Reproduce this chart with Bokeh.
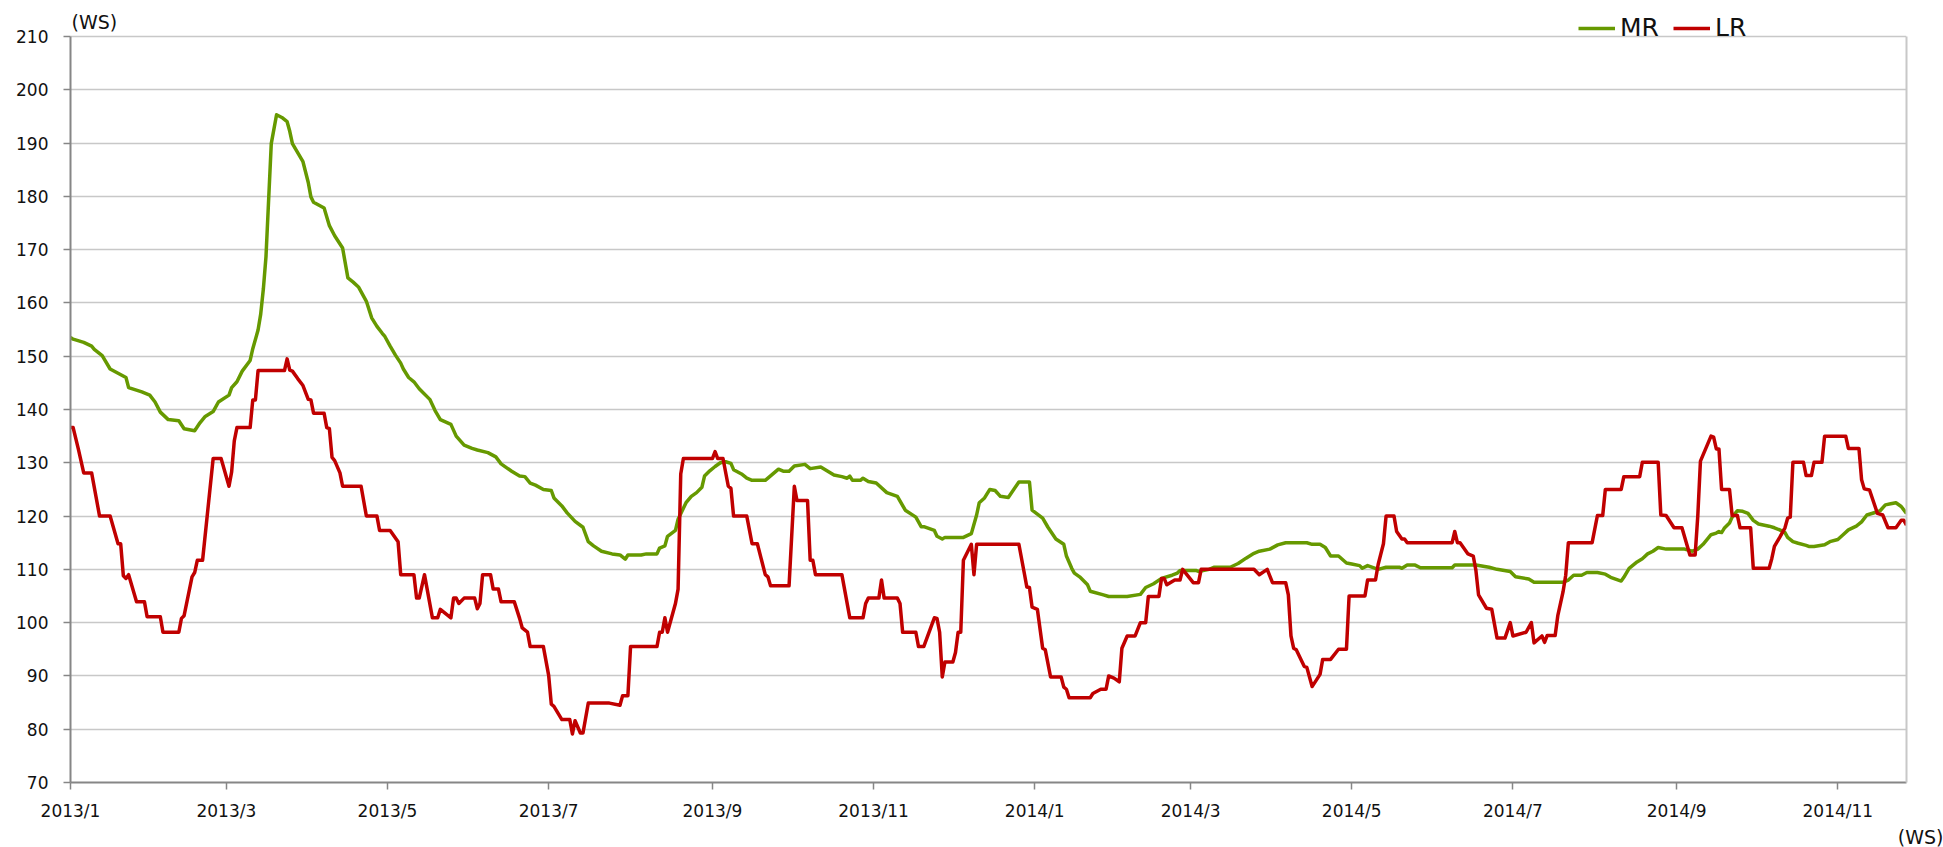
import pandas as pd
from bokeh.plotting import figure
from bokeh.models import (Range1d, FixedTicker, Label, Legend, LegendItem, LinearAxis, Title)
from bokeh.embed import file_html
from bokeh.resources import INLINE

# ---------------- data ----------------
mr_dates = [
    "2013-01-01", "2013-01-02", "2013-01-06", "2013-01-09", "2013-01-10", "2013-01-13", "2013-01-16",
    "2013-01-19", "2013-01-22", "2013-01-23", "2013-01-28", "2013-01-31", "2013-02-02", "2013-02-04",
    "2013-02-07", "2013-02-11", "2013-02-13", "2013-02-17", "2013-02-19", "2013-02-21", "2013-02-24",
    "2013-02-26", "2013-03-02", "2013-03-03", "2013-03-05", "2013-03-07", "2013-03-10", "2013-03-11",
    "2013-03-13", "2013-03-14", "2013-03-15", "2013-03-16", "2013-03-18", "2013-03-20", "2013-03-22",
    "2013-03-24", "2013-03-25", "2013-03-26", "2013-03-30", "2013-04-01", "2013-04-02", "2013-04-03",
    "2013-04-07", "2013-04-09", "2013-04-11", "2013-04-14", "2013-04-16", "2013-04-18", "2013-04-20",
    "2013-04-23", "2013-04-25", "2013-04-27", "2013-04-29", "2013-04-30", "2013-05-02", "2013-05-04",
    "2013-05-06", "2013-05-07", "2013-05-09", "2013-05-11", "2013-05-13", "2013-05-17", "2013-05-19",
    "2013-05-21", "2013-05-25", "2013-05-27", "2013-05-30", "2013-06-02", "2013-06-04", "2013-06-08",
    "2013-06-11", "2013-06-13", "2013-06-15", "2013-06-17", "2013-06-20", "2013-06-22", "2013-06-24",
    "2013-06-26", "2013-06-29", "2013-07-02", "2013-07-03", "2013-07-06", "2013-07-08", "2013-07-11",
    "2013-07-14", "2013-07-16", "2013-07-18", "2013-07-21", "2013-07-25", "2013-07-28", "2013-07-30",
    "2013-07-31", "2013-08-05", "2013-08-07", "2013-08-11", "2013-08-12", "2013-08-14", "2013-08-15",
    "2013-08-18", "2013-08-19", "2013-08-22", "2013-08-24", "2013-08-26", "2013-08-28", "2013-08-29",
    "2013-08-31", "2013-09-02", "2013-09-04", "2013-09-06", "2013-09-08", "2013-09-09", "2013-09-12",
    "2013-09-14", "2013-09-16", "2013-09-21", "2013-09-26", "2013-09-28", "2013-09-30", "2013-10-02",
    "2013-10-06", "2013-10-08", "2013-10-12", "2013-10-17", "2013-10-20", "2013-10-22", "2013-10-23",
    "2013-10-24", "2013-10-27", "2013-10-28", "2013-10-30", "2013-11-02", "2013-11-06", "2013-11-10",
    "2013-11-13", "2013-11-17", "2013-11-19", "2013-11-20", "2013-11-24", "2013-11-25", "2013-11-27",
    "2013-11-28", "2013-12-05", "2013-12-08", "2013-12-10", "2013-12-11", "2013-12-13", "2013-12-15",
    "2013-12-17", "2013-12-19", "2013-12-22", "2013-12-26", "2013-12-30", "2013-12-31", "2014-01-04",
    "2014-01-06", "2014-01-09", "2014-01-12", "2014-01-13", "2014-01-15", "2014-01-16", "2014-01-18",
    "2014-01-21", "2014-01-22", "2014-01-27", "2014-01-29", "2014-02-05", "2014-02-10", "2014-02-12",
    "2014-02-15", "2014-02-18", "2014-02-22", "2014-02-24", "2014-02-25", "2014-03-03", "2014-03-04",
    "2014-03-08", "2014-03-10", "2014-03-16", "2014-03-19", "2014-03-22", "2014-03-25", "2014-03-27",
    "2014-03-31", "2014-04-03", "2014-04-06", "2014-04-14", "2014-04-16", "2014-04-19", "2014-04-21",
    "2014-04-23", "2014-04-26", "2014-04-29", "2014-05-01", "2014-05-04", "2014-05-05", "2014-05-07",
    "2014-05-11", "2014-05-14", "2014-05-19", "2014-05-20", "2014-05-22", "2014-05-25", "2014-05-27",
    "2014-06-08", "2014-06-09", "2014-06-17", "2014-06-22", "2014-06-25", "2014-06-30", "2014-07-02",
    "2014-07-07", "2014-07-09", "2014-07-20", "2014-07-22", "2014-07-24", "2014-07-27", "2014-07-29",
    "2014-08-02", "2014-08-05", "2014-08-07", "2014-08-11", "2014-08-12", "2014-08-14", "2014-08-17",
    "2014-08-19", "2014-08-21", "2014-08-23", "2014-08-25", "2014-08-28", "2014-09-04", "2014-09-07",
    "2014-09-09", "2014-09-11", "2014-09-13", "2014-09-14", "2014-09-16", "2014-09-17", "2014-09-18",
    "2014-09-19", "2014-09-21", "2014-09-22", "2014-09-24", "2014-09-26", "2014-09-28", "2014-09-30",
    "2014-10-02", "2014-10-06", "2014-10-08", "2014-10-10", "2014-10-12", "2014-10-13", "2014-10-15",
    "2014-10-17", "2014-10-20", "2014-10-21", "2014-10-23", "2014-10-27", "2014-10-29", "2014-11-01",
    "2014-11-03", "2014-11-05", "2014-11-08", "2014-11-10", "2014-11-12", "2014-11-16", "2014-11-17",
    "2014-11-19", "2014-11-21", "2014-11-23", "2014-11-25", "2014-11-27",
]
mr_values = [
    153.5, 153.2, 152.6, 151.9, 151.3, 150.1, 147.6,
    146.8, 146.0, 144.1, 143.3, 142.7, 141.4, 139.5,
    138.1, 137.9, 136.4, 136.0, 137.5, 138.7, 139.6,
    141.4, 142.7, 144.1, 145.2, 147.2, 149.2, 151.4,
    154.9, 157.9, 162.6, 168.7, 189.9, 195.3, 194.8,
    194.0, 192.2, 189.9, 186.5, 182.6, 179.9, 178.9,
    177.8, 174.5, 172.6, 170.3, 164.7, 163.9, 163.0,
    160.3, 157.2, 155.6, 154.3, 153.7, 151.9, 150.2,
    148.7, 147.6, 146.0, 145.2, 143.9, 141.9, 139.8,
    138.1, 137.2, 135.0, 133.3, 132.7, 132.4, 131.9,
    131.1, 129.8, 129.1, 128.4, 127.5, 127.4, 126.2,
    125.8, 125.0, 124.8, 123.4, 121.9, 120.6, 119.0,
    117.9, 115.2, 114.4, 113.4, 112.9, 112.7, 111.9,
    112.7, 112.7, 112.9, 112.9, 114.0, 114.4, 116.2,
    117.3, 119.4, 122.5, 123.7, 124.4, 125.4, 127.5,
    128.5, 129.3, 130.0, 130.2, 129.9, 128.7, 127.9,
    127.1, 126.7, 126.7, 128.8, 128.4, 128.4, 129.4,
    129.7, 128.9, 129.2, 127.7, 127.4, 127.1, 127.5,
    126.7, 126.7, 127.1, 126.5, 126.2, 124.4, 123.7,
    121.1, 119.8, 118.0, 118.0, 117.3, 116.2, 115.7,
    116.0, 116.0, 116.7, 120.2, 122.5, 123.4, 125.0,
    124.8, 123.7, 123.5, 126.4, 126.4, 121.1, 119.6,
    117.9, 115.7, 114.7, 112.5, 110.2, 109.3, 108.6,
    107.1, 105.9, 105.2, 104.9, 104.9, 105.3, 106.6,
    107.3, 108.3, 108.9, 109.3, 109.8, 109.8, 109.6,
    110.0, 110.4, 110.4, 111.1, 112.1, 113.0, 113.4,
    113.8, 114.6, 115.0, 115.0, 114.7, 114.7, 114.1,
    112.5, 112.5, 111.2, 111.0, 110.7, 110.2, 110.7,
    110.0, 110.4, 110.4, 110.2, 110.8, 110.8, 110.3,
    110.3, 110.8, 110.8, 110.4, 110.0, 109.6, 108.6,
    108.2, 107.6, 107.6, 108.0, 108.9, 108.9, 109.4,
    109.4, 109.1, 108.5, 107.8, 108.5, 110.2, 111.4,
    112.0, 112.9, 113.4, 114.1, 113.8, 113.8, 113.4,
    113.8, 114.7, 115.9, 116.5, 116.8, 117.1, 116.9,
    117.7, 118.7, 119.8, 121.0, 120.9, 120.5, 119.2,
    118.5, 118.1, 117.8, 117.4, 116.9, 116.0, 115.2,
    114.9, 114.5, 114.3, 114.3, 114.6, 115.2, 115.6,
    116.5, 117.4, 118.1, 118.9, 120.2, 120.8, 121.0,
    122.1, 122.3, 122.5, 121.8, 120.5,
]

lr_dates = [
    "2013-01-01", "2013-01-02", "2013-01-04", "2013-01-06", "2013-01-09", "2013-01-12", "2013-01-16",
    "2013-01-19", "2013-01-20", "2013-01-21", "2013-01-22", "2013-01-23", "2013-01-26", "2013-01-29",
    "2013-01-30", "2013-02-04", "2013-02-05", "2013-02-11", "2013-02-12", "2013-02-13", "2013-02-16",
    "2013-02-17", "2013-02-18", "2013-02-20", "2013-02-24", "2013-02-27", "2013-03-02", "2013-03-03",
    "2013-03-04", "2013-03-05", "2013-03-10", "2013-03-11", "2013-03-12", "2013-03-13", "2013-03-23",
    "2013-03-24", "2013-03-25", "2013-03-26", "2013-03-28", "2013-03-30", "2013-04-01", "2013-04-02",
    "2013-04-03", "2013-04-07", "2013-04-08", "2013-04-09", "2013-04-10", "2013-04-11", "2013-04-13",
    "2013-04-14", "2013-04-21", "2013-04-23", "2013-04-27", "2013-04-28", "2013-05-02", "2013-05-05",
    "2013-05-06", "2013-05-11", "2013-05-12", "2013-05-13", "2013-05-15", "2013-05-18", "2013-05-20",
    "2013-05-21", "2013-05-25", "2013-05-26", "2013-05-27", "2013-05-28", "2013-05-30", "2013-06-03",
    "2013-06-04", "2013-06-05", "2013-06-06", "2013-06-09", "2013-06-10", "2013-06-12", "2013-06-13",
    "2013-06-18", "2013-06-20", "2013-06-21", "2013-06-23", "2013-06-24", "2013-06-29", "2013-07-01",
    "2013-07-02", "2013-07-03", "2013-07-06", "2013-07-09", "2013-07-10", "2013-07-11", "2013-07-13",
    "2013-07-14", "2013-07-16", "2013-07-24", "2013-07-28", "2013-07-29", "2013-07-31", "2013-08-01",
    "2013-08-11", "2013-08-12", "2013-08-13", "2013-08-14", "2013-08-15", "2013-08-18", "2013-08-19",
    "2013-08-20", "2013-08-21", "2013-09-01", "2013-09-02", "2013-09-03", "2013-09-05", "2013-09-07",
    "2013-09-08", "2013-09-09", "2013-09-14", "2013-09-16", "2013-09-18", "2013-09-21", "2013-09-22",
    "2013-09-23", "2013-09-30", "2013-10-02", "2013-10-03", "2013-10-07", "2013-10-08", "2013-10-09",
    "2013-10-10", "2013-10-20", "2013-10-23", "2013-10-28", "2013-10-29", "2013-10-30", "2013-11-03",
    "2013-11-04", "2013-11-05", "2013-11-10", "2013-11-11", "2013-11-12", "2013-11-17", "2013-11-18",
    "2013-11-20", "2013-11-24", "2013-11-25", "2013-11-26", "2013-11-27", "2013-11-28", "2013-12-01",
    "2013-12-02", "2013-12-03", "2013-12-04", "2013-12-05", "2013-12-08", "2013-12-09", "2013-12-10",
    "2013-12-26", "2013-12-28", "2013-12-29", "2013-12-30", "2013-12-31", "2014-01-02", "2014-01-04",
    "2014-01-05", "2014-01-07", "2014-01-11", "2014-01-12", "2014-01-13", "2014-01-14", "2014-01-22",
    "2014-01-23", "2014-01-26", "2014-01-28", "2014-01-29", "2014-01-31", "2014-02-02", "2014-02-03",
    "2014-02-05", "2014-02-08", "2014-02-10", "2014-02-12", "2014-02-13", "2014-02-17", "2014-02-18",
    "2014-02-19", "2014-02-20", "2014-02-23", "2014-02-25", "2014-02-26", "2014-03-02", "2014-03-04",
    "2014-03-05", "2014-03-25", "2014-03-27", "2014-03-30", "2014-04-01", "2014-04-06", "2014-04-07",
    "2014-04-08", "2014-04-09", "2014-04-10", "2014-04-13", "2014-04-14", "2014-04-16", "2014-04-19",
    "2014-04-20", "2014-04-23", "2014-04-26", "2014-04-29", "2014-04-30", "2014-05-06", "2014-05-07",
    "2014-05-10", "2014-05-11", "2014-05-13", "2014-05-14", "2014-05-17", "2014-05-18", "2014-05-20",
    "2014-05-21", "2014-05-22", "2014-06-08", "2014-06-09", "2014-06-10", "2014-06-11", "2014-06-14",
    "2014-06-16", "2014-06-17", "2014-06-18", "2014-06-21", "2014-06-23", "2014-06-25", "2014-06-28",
    "2014-06-30", "2014-07-01", "2014-07-06", "2014-07-08", "2014-07-09", "2014-07-12", "2014-07-13",
    "2014-07-14", "2014-07-17", "2014-07-18", "2014-07-20", "2014-07-21", "2014-07-22", "2014-07-31",
    "2014-08-02", "2014-08-04", "2014-08-05", "2014-08-11", "2014-08-12", "2014-08-18", "2014-08-19",
    "2014-08-25", "2014-08-26", "2014-08-28", "2014-08-31", "2014-09-03", "2014-09-06", "2014-09-08",
    "2014-09-09", "2014-09-10", "2014-09-14", "2014-09-15", "2014-09-16", "2014-09-17", "2014-09-18",
    "2014-09-21", "2014-09-22", "2014-09-24", "2014-09-25", "2014-09-29", "2014-09-30", "2014-10-06",
    "2014-10-07", "2014-10-08", "2014-10-10", "2014-10-12", "2014-10-13", "2014-10-14", "2014-10-15",
    "2014-10-19", "2014-10-20", "2014-10-22", "2014-10-23", "2014-10-26", "2014-10-27", "2014-11-04",
    "2014-11-05", "2014-11-09", "2014-11-10", "2014-11-11", "2014-11-13", "2014-11-16", "2014-11-18",
    "2014-11-20", "2014-11-23", "2014-11-25", "2014-11-26", "2014-11-27",
]
lr_values = [
    136.6, 136.6, 132.5, 128.1, 128.1, 120.0, 120.0,
    114.8, 114.8, 108.8, 108.3, 109.0, 103.9, 103.9,
    101.1, 101.1, 98.2, 98.2, 100.8, 101.3, 108.6,
    109.4, 111.7, 111.7, 130.8, 130.8, 125.6, 128.3,
    134.1, 136.6, 136.6, 141.8, 141.8, 147.3, 147.3,
    149.5, 147.4, 147.2, 145.8, 144.5, 141.9, 141.8,
    139.3, 139.3, 136.6, 136.4, 131.0, 130.4, 128.1,
    125.6, 125.6, 120.0, 120.0, 117.3, 117.3, 115.2,
    109.0, 109.0, 104.6, 104.6, 109.0, 100.9, 100.9,
    102.5, 100.9, 104.6, 104.6, 103.6, 104.6, 104.6,
    102.6, 103.6, 109.0, 109.0, 106.3, 106.3, 103.9,
    103.9, 100.8, 99.0, 98.2, 95.5, 95.5, 90.1,
    84.7, 84.3, 81.8, 81.8, 79.1, 81.6, 79.3,
    79.3, 84.9, 84.9, 84.5, 86.3, 86.3, 95.5,
    95.5, 98.2, 98.2, 100.9, 98.2, 103.6, 106.3,
    127.9, 130.8, 130.8, 132.1, 130.8, 130.8, 125.6,
    125.2, 120.0, 120.0, 114.8, 114.8, 109.0, 108.6,
    106.9, 106.9, 125.6, 122.9, 122.9, 111.7, 111.7,
    109.0, 109.0, 100.9, 100.9, 103.6, 104.6, 104.6,
    108.0, 104.6, 104.6, 103.6, 98.2, 98.2, 95.5,
    95.5, 100.9, 100.8, 98.2, 89.8, 92.6, 92.6,
    94.4, 98.2, 98.2, 111.7, 114.7, 109.0, 114.7,
    114.7, 109.4, 106.7, 106.6, 102.9, 102.5, 95.2,
    94.9, 89.8, 89.8, 87.9, 87.5, 85.9, 85.9,
    86.7, 87.5, 87.5, 90.0, 89.6, 88.9, 95.2,
    97.5, 97.5, 100.0, 100.0, 104.9, 104.9, 108.3,
    108.3, 107.1, 108.0, 108.0, 110.0, 107.5, 107.5,
    110.0, 110.0, 109.0, 110.0, 107.5, 107.5, 105.2,
    97.5, 95.2, 94.9, 91.8, 91.6, 88.0, 90.3,
    93.1, 93.1, 95.0, 95.0, 105.0, 105.0, 108.0,
    108.0, 110.9, 114.8, 120.0, 120.0, 117.1, 115.7,
    115.7, 115.0, 115.0, 117.1, 115.0, 115.0, 112.9,
    112.5, 109.8, 105.2, 102.7, 102.5, 97.1, 97.1,
    100.0, 97.5, 98.2, 100.0, 96.2, 97.5, 96.3,
    97.6, 97.6, 101.3, 105.8, 108.9, 115.0, 115.0,
    120.1, 120.1, 125.0, 125.0, 127.4, 127.4, 130.1,
    130.1, 120.2, 120.1, 117.8, 117.8, 112.7, 112.7,
    120.1, 130.3, 135.0, 134.8, 132.6, 132.6, 125.0,
    125.0, 120.1, 120.1, 117.8, 117.8, 110.2, 110.2,
    112.0, 114.3, 116.0, 117.8, 119.6, 119.8, 130.1,
    130.1, 127.6, 127.6, 130.1, 130.1, 135.0, 135.0,
    132.7, 132.7, 126.8, 125.1, 124.9, 120.5, 120.2,
    117.8, 117.8, 119.2, 119.2, 118.3,
]

series_names = ["MR", "LR"]
series_colors = ["#669900", "#c00000"]

x_tick_dates = ["2013-01-01", "2013-03-01", "2013-05-01", "2013-07-01", "2013-09-01", "2013-11-01",
                "2014-01-01", "2014-03-01", "2014-05-01", "2014-07-01", "2014-09-01", "2014-11-01"]
x_tick_labels = ["2013/1", "2013/3", "2013/5", "2013/7", "2013/9", "2013/11",
                 "2014/1", "2014/3", "2014/5", "2014/7", "2014/9", "2014/11"]
y_ticks = [70, 80, 90, 100, 110, 120, 130, 140, 150, 160, 170, 180, 190, 200, 210]
unit_label = "(WS)"
x_start, x_end = "2013-01-01", "2014-11-27"
y_min, y_max = 70, 210
# the plot area is stretched up to the top of the page so that the legend and the
# unit label (which sit above the 210 line) stay inside the drawing area
y_top = 216.75

# ---------------- figure ----------------
FONT = "DejaVu Sans"
W, H = 1943, 847
p = figure(width=W, height=H, x_axis_type="datetime", output_backend="svg",
           toolbar_location=None,
           x_range=Range1d(pd.Timestamp(x_start), pd.Timestamp(x_end)),
           y_range=Range1d(y_min, y_top),
           min_border_left=70, min_border_right=37, min_border_top=0, min_border_bottom=64)
p.background_fill_color = "white"
p.border_fill_color = "white"
p.outline_line_color = None

p.xgrid.grid_line_color = None
p.ygrid.grid_line_color = "#c8c8c8"
p.ygrid.grid_line_width = 1.5

tick_ms = [float(pd.Timestamp(d).value // 10**6) for d in x_tick_dates]
p.xaxis.ticker = FixedTicker(ticks=tick_ms)
p.xaxis.major_label_overrides = {t: lab for t, lab in zip(tick_ms, x_tick_labels)}
p.yaxis.ticker = FixedTicker(ticks=y_ticks)
p.yaxis.bounds = (y_min, y_max)

for ax in (p.xaxis, p.yaxis):
    ax.axis_line_color = "#868686"
    ax.axis_line_width = 2
    ax.major_tick_line_color = "#868686"
    ax.major_tick_line_width = 1.5
    ax.major_tick_in = 0
    ax.major_tick_out = 7
    ax.minor_tick_line_color = None
    ax.major_label_text_font = FONT
    ax.major_label_text_font_size = "17px"
    ax.major_label_text_color = "#111111"
p.xaxis.major_label_standoff = 11
p.yaxis.major_label_standoff = 15

# right border of the plot area (light grey, only between 70 and 210)
right_border = LinearAxis(bounds=(y_min, y_max), ticker=FixedTicker(ticks=[]),
                          axis_line_color="#c8c8c8", axis_line_width=2,
                          major_tick_line_color=None, minor_tick_line_color=None,
                          major_label_text_font_size="0px")
p.add_layout(right_border, "right")

r_mr = p.line(pd.to_datetime(mr_dates), mr_values, line_color=series_colors[0],
              line_width=3.5, line_join="round")
r_lr = p.line(pd.to_datetime(lr_dates), lr_values, line_color=series_colors[1],
              line_width=3.5, line_join="round")

legend = Legend(items=[LegendItem(label=series_names[0], renderers=[r_mr]),
                       LegendItem(label=series_names[1], renderers=[r_lr])],
                location=(1508, 740), orientation="horizontal",
                border_line_color=None, background_fill_alpha=0,
                glyph_width=37, glyph_height=28, label_height=28,
                label_standoff=5, spacing=14, padding=0, margin=0,
                label_text_font=FONT, label_text_font_size="25px",
                label_text_color="#111111")
p.add_layout(legend, "center")

# unit label at the top-left of the plot area
p.add_layout(Label(x=1, y=761, x_units="screen", y_units="screen", text=unit_label,
                   text_font=FONT, text_font_size="19px", text_baseline="middle",
                   text_color="#111111"))

# unit label at the bottom-right, below the x axis
p.add_layout(Title(text=unit_label, align="right", offset=-37, standoff=0,
                   text_font=FONT, text_font_size="19px", text_font_style="normal",
                   text_color="#111111"), "below")

open("out.html", "w").write(file_html(p, INLINE))
